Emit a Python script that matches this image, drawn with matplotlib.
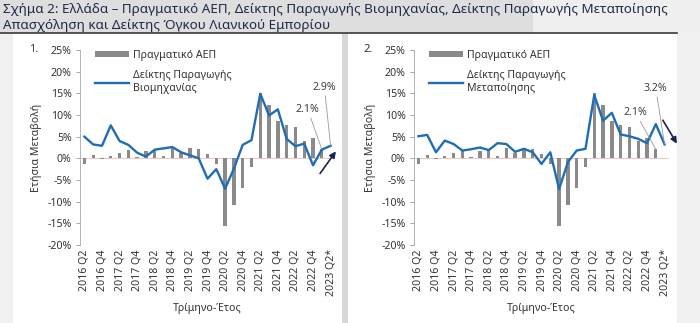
import numpy as np
import matplotlib
matplotlib.use("Agg")
import matplotlib.pyplot as plt
from matplotlib.patches import Rectangle
from matplotlib.lines import Line2D

plt.rcParams['font.family'] = ['Noto Sans', 'DejaVu Sans']

# quarters 2016 Q2 .. 2023 Q2*
quarters = ['2016 Q2', '2016 Q3', '2016 Q4', '2017 Q1', '2017 Q2', '2017 Q3', '2017 Q4',
            '2018 Q1', '2018 Q2', '2018 Q3', '2018 Q4', '2019 Q1', '2019 Q2', '2019 Q3',
            '2019 Q4', '2020 Q1', '2020 Q2', '2020 Q3', '2020 Q4', '2021 Q1', '2021 Q2',
            '2021 Q3', '2021 Q4', '2022 Q1', '2022 Q2', '2022 Q3', '2022 Q4', '2023 Q1',
            '2023 Q2*']

# real GDP, yoy % (no value yet for 2023 Q2)
gdp = [-1.3, 0.8, -0.2, 0.6, 1.3, 1.9, 0.4, 1.7, 1.8, 0.5, 2.3, 1.3, 2.4, 2.1,
       1.0, -1.2, -15.5, -10.7, -6.8, -1.9, 15.0, 12.4, 8.5, 7.7, 7.2, 4.1, 4.7, 2.1]

# industrial production index, yoy %
industry = [5.0, 3.2, 2.9, 7.6, 4.0, 3.1, 1.3, 0.4, 2.0, 2.3, 2.6, 1.4, 0.7, 0.0,
            -4.7, -2.5, -7.0, -2.4, 3.1, 4.2, 14.9, 9.9, 11.3, 4.5, 2.8, 3.4, -1.6, 2.0, 2.9]

# manufacturing production index, yoy %
manuf = [5.1, 5.4, 1.4, 4.1, 3.3, 1.8, 2.1, 2.5, 1.9, 3.5, 3.3, 1.5, 2.2, 1.4,
         -1.3, 1.4, -7.1, -0.9, 1.8, 2.2, 14.6, 8.7, 10.5, 5.5, 5.1, 4.5, 3.5, 7.9, 3.2]

panels = [
    dict(num='1.', line=industry, name='Δείκτης Παραγωγής\nΒιομηχανίας',
         lab1=('2.1%', 27, 2.1, 25.4, 10.0), lab2=('2.9%', 28, 2.9, 27.3, 15.0),
         arrow=((26.8, -3.5), (28.6, 1.6)), left=80, width=255),
    dict(num='2.', line=manuf, name='Δείκτης Παραγωγής\nΜεταποίησης',
         lab1=('2.1%', 27, 2.1, 24.7, 9.2), lab2=('3.2%', 28, 3.2, 27.0, 14.8),
         arrow=((27.8, 8.8), (29.4, 3.4)), left=414, width=255),
]

W, H = 700, 323
fig = plt.figure(figsize=(7.0, 3.23), dpi=100)
fig.patch.set_facecolor('white')

def rect(x0, y0, x1, y1, color):
    fig.patches.append(Rectangle((x0 / W, 1 - y1 / H), (x1 - x0) / W, (y1 - y0) / H,
                                 transform=fig.transFigure, facecolor=color,
                                 edgecolor='none', zorder=-10))

# background blocks
rect(0, 0, 533, 33, '#dedede')
rect(533, 0, 700, 33, '#efefef')
rect(0, 33, 13, 323, '#f0f0f0')
rect(342, 33, 348, 323, '#d9d9d9')
rect(677, 33, 700, 323, '#f0f0f0')
fig.add_artist(Line2D([0, 677 / W], [1 - 32.5 / H, 1 - 32.5 / H], color='#3a3a3a', lw=1.2))

fig.text(3 / W, 1 - 10 / H,
         'Σχήμα 2: Ελλάδα – Πραγματικό ΑΕΠ, Δείκτης Παραγωγής Βιομηχανίας, Δείκτης Παραγωγής Μεταποίησης',
         fontsize=9.7, color='#1d2b45', va='center', ha='left')
fig.text(3 / W, 1 - 25 / H, 'Απασχόληση και Δείκτης Όγκου Λιανικού Εμπορίου',
         fontsize=9.7, color='#1d2b45', va='center', ha='left')

x = np.arange(len(quarters))
tc = '#333333'
for p in panels:
    ax = fig.add_axes([p['left'] / W, 1 - 245 / H, p['width'] / W, 195 / H])
    ax.set_facecolor('none')
    ax.axhline(0, color='#ecc9c9', lw=0.8, zorder=1)
    bars = ax.bar(x[:len(gdp)], gdp, width=0.38, color='#8a8a8a', label='Πραγματικό ΑΕΠ', zorder=2)
    ln, = ax.plot(x, p['line'], color='#1f6db3', lw=1.7, label=p['name'], zorder=3)
    ax.set_xlim(-0.5, len(quarters) - 0.5)
    ax.set_ylim(-20, 25)
    ax.set_yticks(np.arange(-20, 26, 5))
    ax.set_yticklabels([f'{v}%' for v in range(-20, 26, 5)])
    ax.set_xticks(x[::2])
    ax.set_xticklabels(quarters[::2], rotation=90)
    ax.tick_params(axis='y', labelsize=7.6, colors=tc, length=3, width=0.6, color='#999999', pad=3)
    ax.tick_params(axis='x', labelsize=7.6, colors=tc, length=0, pad=3)
    for s in ['top', 'right', 'bottom']:
        ax.spines[s].set_visible(False)
    ax.spines['left'].set_color('#aaaaaa')
    ax.spines['left'].set_linewidth(0.6)
    ax.set_ylabel('Ετήσια Μεταβολή', fontsize=7.6, color=tc, labelpad=4)
    ax.set_xlabel('Τρίμηνο-Έτος', fontsize=7.6, color=tc, labelpad=5)

    ax.legend([bars, ln], ['Πραγματικό ΑΕΠ', p['name']], loc='upper left',
              bbox_to_anchor=(0.02, 1.05), frameon=False,
              fontsize=7.6, handlelength=3.3, handleheight=0.5, labelspacing=0.9,
              handletextpad=0.3, labelcolor=tc)

    ax.text(-0.2, 1.0, p['num'], transform=ax.transAxes, fontsize=8, color=tc,
            ha='left', va='center')

    for lab, xi, yi, tx, ty in (p['lab1'], p['lab2']):
        ax.annotate(lab, xy=(xi, yi), xytext=(tx, ty), fontsize=7.6, color='#404040',
                    ha='center', va='bottom',
                    arrowprops=dict(arrowstyle='-', color='#999999', lw=0.6,
                                    shrinkA=0, shrinkB=0), zorder=4)
    (ax0, ay0), (ax1, ay1) = p['arrow']
    ax.annotate('', xy=(ax1, ay1), xytext=(ax0, ay0), annotation_clip=False,
                arrowprops=dict(arrowstyle='-|>', color='#1a2550', lw=1.2,
                                mutation_scale=9, shrinkA=0, shrinkB=0), zorder=5)

fig.savefig('out.png', dpi=100)
